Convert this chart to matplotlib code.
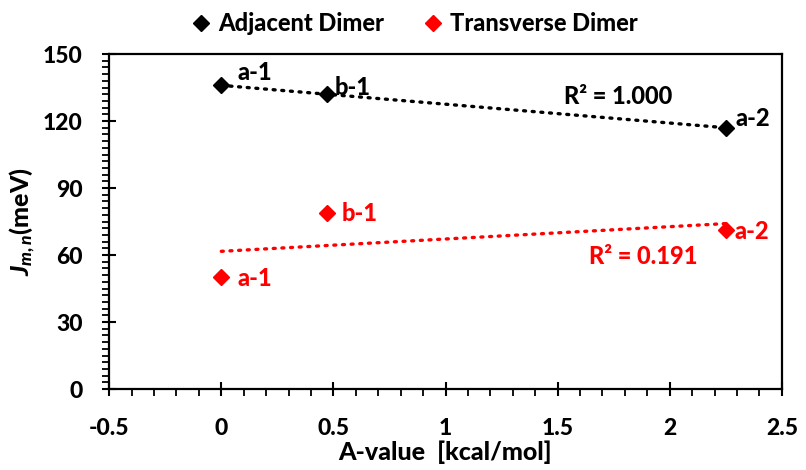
import matplotlib
matplotlib.use("Agg")
import matplotlib.pyplot as plt
import numpy as np
from matplotlib.ticker import MultipleLocator

plt.rcParams['font.family'] = ['Lato', 'DejaVu Sans']
plt.rcParams['font.weight'] = 'black'
plt.rcParams['mathtext.fontset'] = 'custom'
plt.rcParams['mathtext.it'] = 'Lato:black:italic'
plt.rcParams['mathtext.rm'] = 'Lato:black'
plt.rcParams['mathtext.bf'] = 'Lato:black'

# Data
a_values = [0.0, 0.47, 2.25]
labels = ['a-1', 'b-1', 'a-2']
adjacent = [136, 132, 117]
transverse = [50, 79, 71]
r2_adj = "R² = 1.000"
r2_trans = "R² = 0.191"

W = 'black'
fig = plt.figure(figsize=(8.06, 4.70), dpi=100)
ax = fig.add_axes([0.1355, 0.1723, 0.970 - 0.1355, 0.885 - 0.1723])

x = np.array(a_values)
for yv, col, name in [(adjacent, 'black', 'Adjacent Dimer'), (transverse, '#ff0000', 'Transverse Dimer')]:
    yv = np.array(yv, dtype=float)
    ax.plot(x, yv, 'D', color=col, markersize=8, label=name, zorder=3)
    p = np.polyfit(x, yv, 1)
    xx = np.array([x.min(), x.max()])
    ax.plot(xx, np.polyval(p, xx), linestyle=(0, (0.6, 2.0)), color=col, linewidth=2.4,
            dash_capstyle='round', zorder=2)

# point labels
fs = 17
def lab(txt, xy, off, col):
    ax.annotate(txt, xy, xytext=off, textcoords='offset points', fontsize=fs,
                fontweight=W, color=col, va='center', ha='left')

lab(labels[0], (a_values[0], adjacent[0]), (12, 9), 'black')
lab(labels[1], (a_values[1], adjacent[1]), (6, 5), 'black')
lab(labels[2], (a_values[2], adjacent[2]), (7, 7), 'black')
lab(labels[0], (a_values[0], transverse[0]), (12, -1), '#ff0000')
lab(labels[1], (a_values[1], transverse[1]), (11, -1), '#ff0000')
lab(labels[2], (a_values[2], transverse[2]), (6, -1), '#ff0000')

ax.text(1.53, 131, r2_adj, fontsize=fs, fontweight=W, color='black', va='center')
ax.text(1.64, 59.5, r2_trans, fontsize=fs, fontweight=W, color='#ff0000', va='center')

ax.set_xlim(-0.5, 2.5)
ax.set_ylim(0, 150)
ax.xaxis.set_minor_locator(MultipleLocator(0.1))
ax.yaxis.set_major_locator(MultipleLocator(30))
ax.yaxis.set_minor_locator(MultipleLocator(3))
ax.set_xticks([-0.5, 0, 0.5, 1, 1.5, 2, 2.5])
ax.set_xticklabels(['-0.5', '0', '0.5', '1', '1.5', '2', '2.5'])
ax.tick_params(axis='both', which='major', direction='inout', length=10, width=1.5, labelsize=16.5)
ax.tick_params(axis='both', which='minor', direction='out', length=5, width=1.3)
ax.tick_params(axis='x', which='major', pad=16)
ax.tick_params(axis='y', which='major', pad=14)
for t in ax.get_xticklabels() + ax.get_yticklabels():
    t.set_fontweight(W)
for s in ax.spines.values():
    s.set_linewidth(1.6)

ax.set_xlabel('A-value  [kcal/mol]', fontsize=18, fontweight=W, labelpad=1)
ax.set_ylabel(r'$J_{m,n}$(meV)', fontsize=18, fontweight=W, labelpad=4)

fig.legend(loc='upper center', bbox_to_anchor=(0.513, 1.02), ncol=2, frameon=False,
           handletextpad=0.2, columnspacing=1.6, handlelength=1.0,
           prop={'weight': W, 'size': 17})

fig.savefig('out.png', dpi=100)
